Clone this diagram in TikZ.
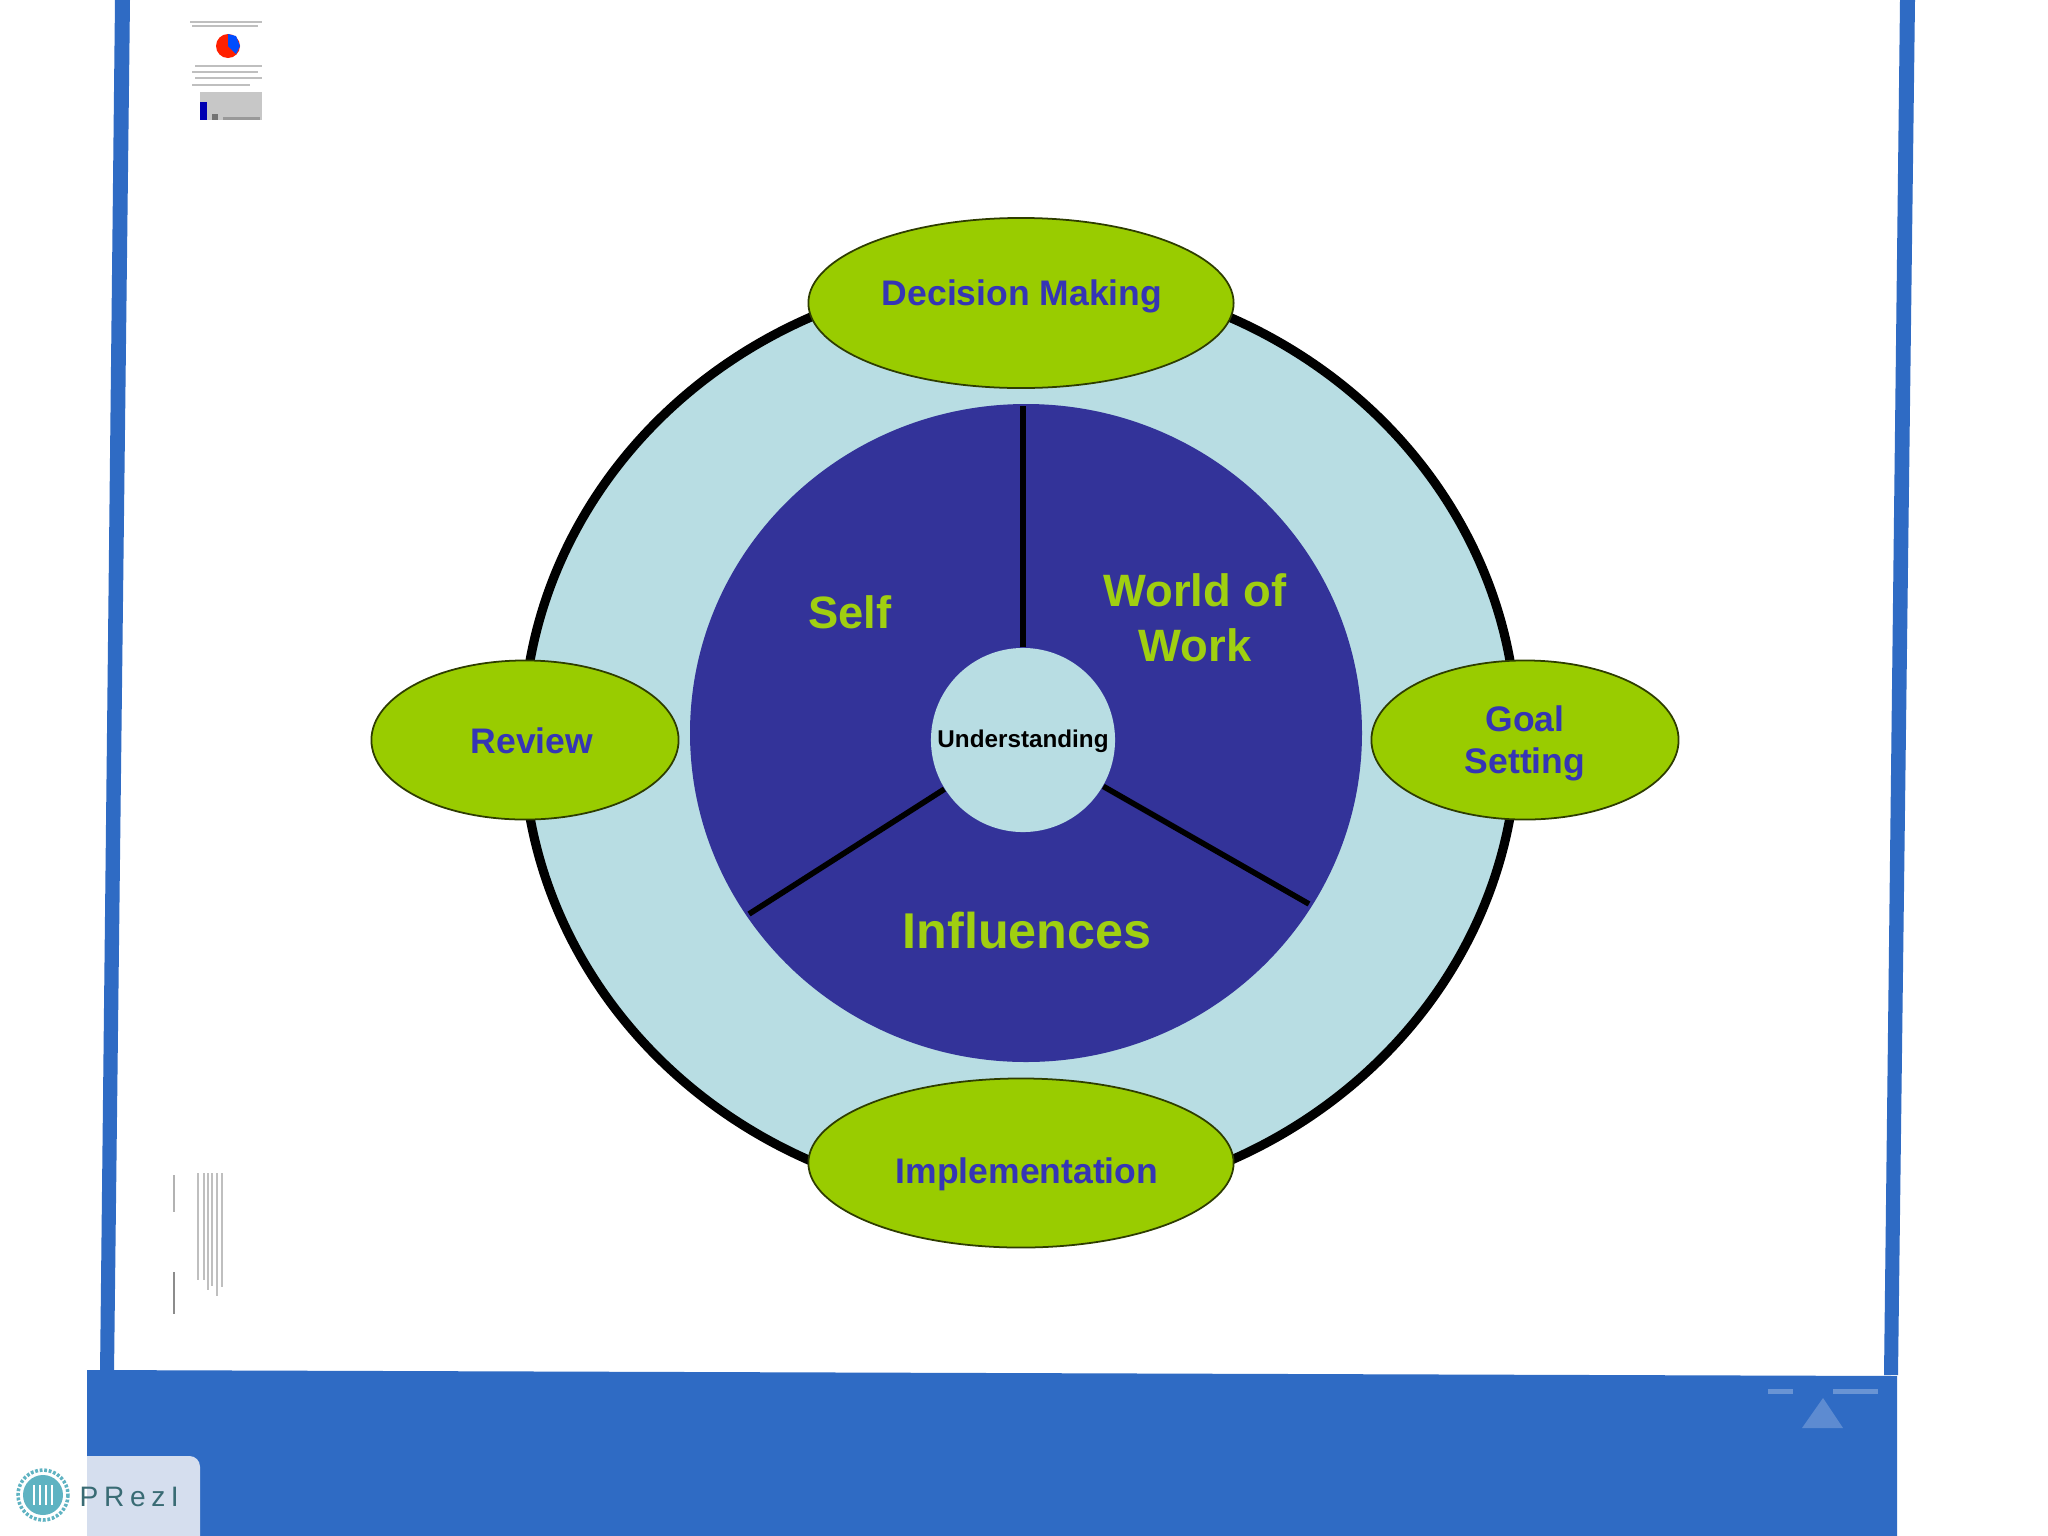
\documentclass[tikz,border=0pt]{standalone}
\usepackage{fontspec}
\usetikzlibrary{shapes.geometric}
\setmainfont{Liberation Sans}
\definecolor{frameblue}{HTML}{2F6BC4}
\definecolor{ringblue}{HTML}{B8DDE3}
\definecolor{navy}{HTML}{333399}
\definecolor{lime}{HTML}{99CC00}
\definecolor{textblue}{HTML}{3535B5}
\definecolor{textlime}{HTML}{A0CF10}
\definecolor{logoteal}{HTML}{5FB3C2}
\definecolor{tabgrey}{HTML}{D5DEEE}
\tikzset{
  x=0.01cm,y=-0.01cm,
  petal/.style={ellipse,draw=black!70!lime,line width=0.5pt,fill=lime,inner sep=0pt},
  petaltext/.style={font=\bfseries\fontsize{10.1}{12}\selectfont,text=textblue,align=center,inner sep=0pt},
  sector/.style={text=textlime,align=center},
  spoke/.style={draw=black,line width=1.6pt},
  thumb/.style={draw=black!40,line width=0.4pt},
}
\begin{document}
\begin{tikzpicture}
\useasboundingbox (0,0) rectangle (2048,1536);
\fill[white] (0,0) rectangle (2048,1536);
% frame
\fill[frameblue] (115,0) -- (130,0) -- (114,1375) -- (100,1375) -- cycle;
\fill[frameblue] (1900,0) -- (1915,0) -- (1898,1375) -- (1884,1375) -- cycle;
\fill[frameblue] (87,1370) -- (1897,1376) -- (1897,1536) -- (87,1536) -- cycle;
\fill[tabgrey,rounded corners=3pt] (60,1456) rectangle (200,1560);
\fill[white] (0,1440) rectangle (87,1536);
\fill[tabgrey] (87,1456) rectangle (120,1536);
% balance icon
\fill[frameblue!72!white] (1768,1389) rectangle (1793,1394);
\fill[frameblue!72!white] (1833,1389) rectangle (1878,1394);
\fill[frameblue!78!white] (1823,1398) -- (1843,1428) -- (1802,1428) -- cycle;
% logo
\fill[logoteal] (43,1495) circle[radius=20];
\draw[logoteal,line width=1pt,dash pattern=on 0.8pt off 0.5pt] (43,1495) circle[radius=25];
\foreach \dx in {-9,-3,3,9}{\draw[white,line width=0.5pt] (43+\dx,1485) -- (43+\dx,1505);}
\node[anchor=west,inner sep=0pt,text=logoteal!60!black,font=\fontsize{8}{8}\selectfont] (prezi) at (79,1497) {P\kern1.6pt R\kern1.6pt e\kern1.6pt z\kern1.6pt I};
% top-left thumbnail
\fill[red!75!orange] (228,46) circle[radius=12];
\fill[blue!70!cyan] (228,46) -- (228,34) -- (236,36) -- (240,46) -- (236,54) -- cycle;
\foreach \yy/\xa/\xb in {22/190/262,26/192/258,66/195/262,72/192/258,78/195/262,85/192/250}{\draw[thumb,black!25] (\xa,\yy) -- (\xb,\yy);}
\fill[black!22] (200,92) rectangle (262,120);
\fill[blue!70!black] (200,102) rectangle (207,120);
\fill[black!55] (212,114) rectangle (218,120);
\fill[black!40] (223,117) rectangle (260,120);
% bottom-left thumbnail
\foreach \xx/\yb in {222/1287,217/1296,212/1286,208/1290,204/1280,198/1280}{\draw[black!25,line width=0.5pt] (\xx,1173) -- (\xx,\yb);}
\draw[black!30,line width=0.3pt] (174,1175) -- (174,1212);
\draw[black!45,line width=0.3pt] (174,1272) -- (174,1314);
% ring
\draw[draw=black,line width=2.6pt,fill=ringblue] (1020,739) ellipse[x radius=497,y radius=465];
% hub and disk
\fill[navy] (1026,733) ellipse[x radius=336,y radius=329];
\node[circle,fill=ringblue,minimum size=1.84cm,inner sep=0pt] (hub) at (1023,740) {};
\node[font=\bfseries\fontsize{6.9}{8}\selectfont,text=black,inner sep=0pt] (hubtext) at (1023,741) {Understanding};
\coordinate (top) at (1023,406);
\coordinate (lft) at (749,914);
\coordinate (rgt) at (1309,904);
\draw[spoke] (top) -- (hub.90);
\draw[spoke] (lft) -- (hub.212);
\draw[spoke] (rgt) -- (hub.-30);
% sector labels
\node[sector,font=\bfseries\fontsize{12.9}{15.6}\selectfont] (self) at (850,612) {Self};
\node[sector,font=\bfseries\fontsize{12.9}{15.6}\selectfont] (world) at (1195,618) {World of\\Work};
\node[sector,font=\bfseries\fontsize{14.3}{16}\selectfont] (infl) at (1027,931) {Influences};
% petals
\node[petal,minimum width=4.25cm,minimum height=1.70cm] (dm) at (1021,303) {};
\node[petal,minimum width=4.25cm,minimum height=1.69cm] (impl) at (1021,1163) {};
\node[petal,minimum width=3.07cm,minimum height=1.59cm] (rev) at (525,740) {};
\node[petal,minimum width=3.07cm,minimum height=1.59cm] (goal) at (1525,740) {};
\node[petaltext] (dmt) at (1022,296) {Decision Making};
\node[petaltext] (implt) at (1027,1174) {Implementation};
\node[petaltext] (revt) at (532,741) {Review};
\node[petaltext] (goalt) at (1525,743) {Goal\\Setting};
\end{tikzpicture}
\end{document}
